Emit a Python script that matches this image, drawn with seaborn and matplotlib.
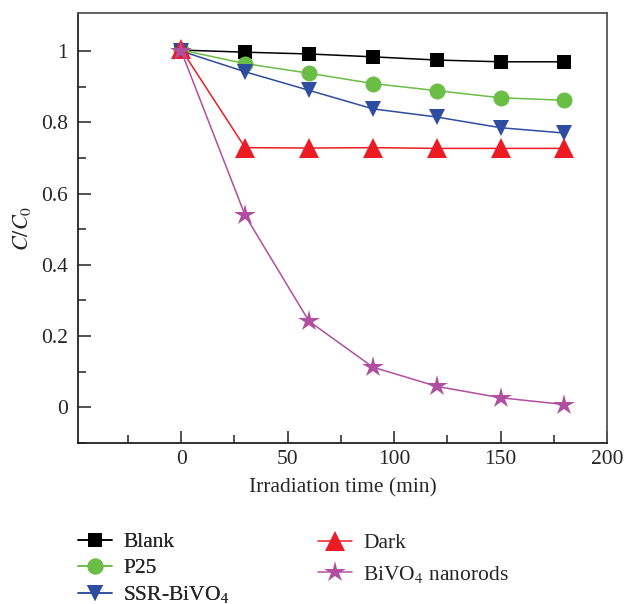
import matplotlib
matplotlib.use("Agg")
import matplotlib.pyplot as plt
import seaborn as sns
import pandas as pd
from matplotlib.ticker import FixedLocator

time = [0, 30, 60, 90, 120, 150, 180]
blank = [1.003, 0.997, 0.992, 0.984, 0.975, 0.970, 0.970]
p25 = [1.003, 0.965, 0.938, 0.909, 0.889, 0.869, 0.862]
ssr = [1.000, 0.942, 0.890, 0.838, 0.815, 0.785, 0.770]
dark = [1.005, 0.729, 0.728, 0.729, 0.727, 0.727, 0.727]
nanorods = [1.000, 0.539, 0.242, 0.113, 0.059, 0.027, 0.008]

labels = ["Blank", "P25", r"SSR-BiVO$_\mathrm{4}$", "Dark", r"BiVO$_\mathrm{4}$ nanorods"]
series = [blank, p25, ssr, dark, nanorods]
colors = ["#000000", "#6abd45", "#2e4da0", "#ed1c24", "#b04fa0"]
markers = ["s", "o", "v", "^", "*"]
msizes = [10.5, 11.5, 12, 14, 16]

sns.set_theme(style="white")
plt.rcParams["font.family"] = ["Liberation Serif", "DejaVu Serif"]
plt.rcParams["mathtext.fontset"] = "stix"

FS = 15.5

fig = plt.figure(figsize=(6.24, 6.04), dpi=100)
ax = fig.add_axes([78 / 624, 1 - 443 / 604, (607 - 78) / 624, (443 - 13) / 604])

handles = []
for lab, ys, c, m, ms in zip(labels, series, colors, markers, msizes):
    df = pd.DataFrame({"t": time, "v": ys})
    sns.lineplot(data=df, x="t", y="v", ax=ax, color=c, marker=m, markersize=ms,
                 markeredgewidth=0, linewidth=1.1, label=lab, legend=False)
    handles.append(ax.lines[-1])

ax.set_xlim(-48.5, 200)
ax.set_ylim(-0.1, 1.107)
ax.set_xticks([0, 50, 100, 150, 200])
ax.set_xticklabels(["0", "50", "100", "150", "200"])
ax.set_yticks([0, 0.2, 0.4, 0.6, 0.8, 1.0])
ax.set_yticklabels(["0", "0.2", "0.4", "0.6", "0.8", "1"])
ax.xaxis.set_minor_locator(FixedLocator([-25, 25, 75, 125, 175]))
ax.yaxis.set_minor_locator(FixedLocator([-0.1 + 0.0001, 0.1, 0.3, 0.5, 0.7, 0.9]))
ax.tick_params(which="both", direction="in", width=1.1, color="#222222",
               bottom=True, left=True, top=False, right=False)
ax.tick_params(which="major", length=9, labelsize=FS, pad=5)
ax.tick_params(which="minor", length=5.5)
ax.tick_params(axis="y", which="major", pad=7)
for s in ["left", "bottom"]:
    ax.spines[s].set_color("#222222")
    ax.spines[s].set_linewidth(1.3)
for s in ["top", "right"]:
    ax.spines[s].set_color("#555555")
    ax.spines[s].set_linewidth(1.3)

ax.set_xlabel("Irradiation time (min)", fontsize=FS, labelpad=7)
ax.set_ylabel(r"$C/C_{\mathrm{0}}$", fontsize=16, labelpad=6)

leg1 = fig.legend(handles=handles[:3], labels=labels[:3], loc="upper left",
                  bbox_to_anchor=(78 / 624, 1 - 532 / 604), frameon=False, fontsize=FS,
                  handlelength=1.6, handletextpad=0.5, labelspacing=0.28,
                  borderpad=0, borderaxespad=0)
leg2 = fig.legend(handles=handles[3:], labels=labels[3:], loc="upper left",
                  bbox_to_anchor=(318 / 624, 1 - 533 / 604), frameon=False, fontsize=FS,
                  handlelength=1.6, handletextpad=0.5, labelspacing=0.5,
                  borderpad=0, borderaxespad=0)
fig.add_artist(leg1)

fig.savefig("out.png", dpi=100)
